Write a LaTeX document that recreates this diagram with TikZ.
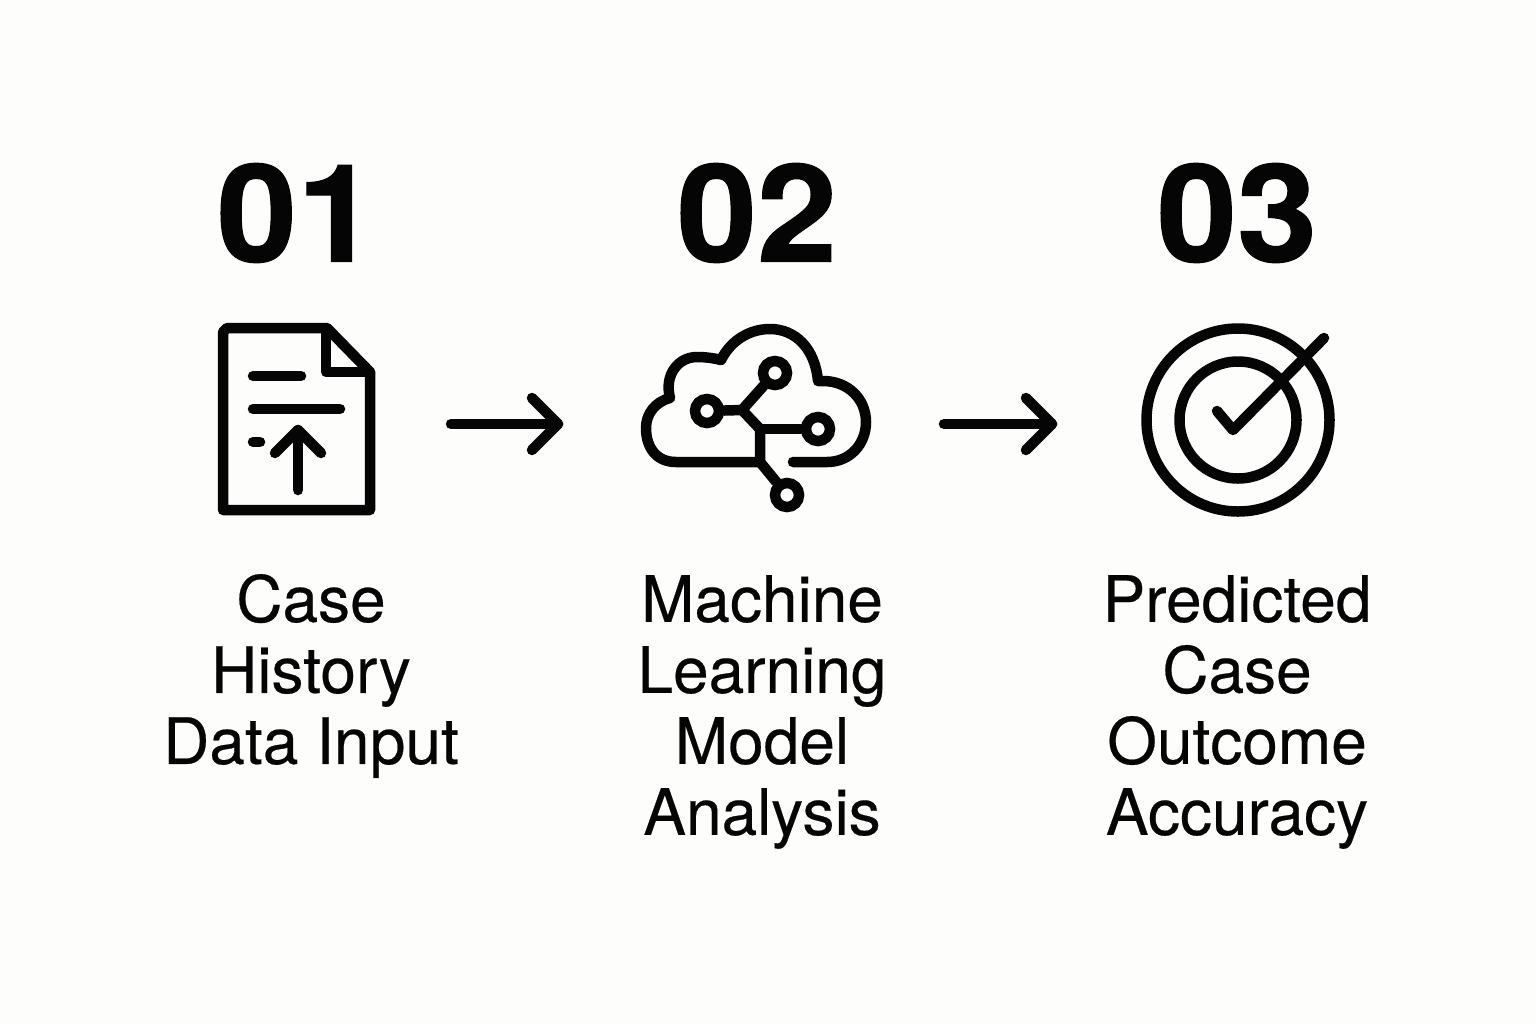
\documentclass[tikz,border=0pt]{standalone}
\usepackage{fontspec}
\setmainfont{TeX Gyre Heros}[UprightFeatures={FakeBold=0.35}]
\newfontfamily\numfont{TeX Gyre Heros}[BoldFeatures={FakeBold=0.8,FakeStretch=1.06}]
\newlength{\du}
\setlength{\du}{0.5pt}
\definecolor{pagecolor}{rgb}{0.992, 0.992, 0.988}
\definecolor{inkcolor}{rgb}{0.020, 0.020, 0.020}
\tikzset{
  icon/.style={draw=inkcolor, line width=10.5\du, line cap=round, line join=round},
  ringnode/.style={circle, draw=inkcolor, line width=10.5\du, minimum size=24\du, inner sep=0pt},
  targetring/.style={circle, draw=inkcolor, line width=10.5\du, inner sep=0pt},
  stepnum/.style={text=inkcolor, font=\fontsize{68}{68}\numfont\bfseries},
  steplabel/.style={text=inkcolor, align=center, font=\fontsize{32}{35.5}\selectfont},
  flowarrow/.style={draw=inkcolor, line width=10.5\du, line cap=round, line join=round}
}
\begin{document}
\begin{tikzpicture}[x=\du, y=-\du]
\fill[pagecolor] (0,0) rectangle (1536,1024);
% step numbers
\node[stepnum] (numA) at (297,213) {01};
\node[stepnum] (numB) at (757,213) {02};
\node[stepnum] (numC) at (1237,213) {03};
% document icon
\draw[icon] (223,332) -- (223,510) -- (370,510) -- (370,372) -- (327,328) -- (227,328) -- cycle;
\draw[icon] (326,330) -- (326,366) -- (326,372) -- (370,372);
\draw[icon] (253,376) -- (301,376);
\draw[icon] (253,409) -- (340,409);
\draw[icon] (253,442) -- (260,442);
\draw[icon] (298,490) -- (298,430);
\draw[icon] (275,453) -- (298,430) -- (321,453);
% cloud icon
\draw[icon] (793,462) -- (827,462)
  .. controls (850,462) and (866,444) .. (866,422)
  .. controls (866,399) and (848,381) .. (823,381) -- (818,381)
  .. controls (815,348) and (795,329) .. (770,329)
  .. controls (750,329) and (731,340) .. (721,360)
  .. controls (713,358) and (705,357) .. (697,357)
  .. controls (678,357) and (664,375) .. (670,398)
  .. controls (655,402) and (646,414) .. (646,428)
  .. controls (646,447) and (656,462) .. (676,462) -- (760,462);
\node[ringnode] (hubA) at (775,373) {};
\node[ringnode] (hubB) at (707,411) {};
\node[ringnode] (hubC) at (818,429) {};
\node[ringnode] (hubD) at (787,495) {};
\coordinate (fork) at (742,410);
\coordinate (joint) at (760,429);
\coordinate (base) at (760,462);
\draw[icon] (hubB) -- (fork) -- (joint) -- (base) -- (hubD);
\draw[icon] (fork) -- (hubA);
\draw[icon] (joint) -- (hubC);
% target icon
\node[targetring, minimum size=183\du] (ringout) at (1238,420) {};
\node[targetring, minimum size=117\du] (ringin) at (1238,420) {};
\draw[icon] (1217,411) -- (1233,430) -- (1324,338);
% arrows
\coordinate (arrAs) at (451,424);
\coordinate (arrAe) at (558,424);
\coordinate (arrBs) at (944,424);
\coordinate (arrBe) at (1052,424);
\draw[flowarrow] (arrAs) -- (arrAe);
\draw[flowarrow] (532,398) -- (arrAe) -- (532,450);
\draw[flowarrow] (arrBs) -- (arrBe);
\draw[flowarrow] (1026,398) -- (arrBe) -- (1026,450);
% labels
\node[steplabel] (labA) at (311,676) {Case\\History\\Data Input};
\node[steplabel] (labB) at (762,712) {Machine\\Learning\\Model\\Analysis};
\node[steplabel] (labC) at (1237,712) {Predicted\\Case\\Outcome\\Accuracy};
\end{tikzpicture}
\end{document}
